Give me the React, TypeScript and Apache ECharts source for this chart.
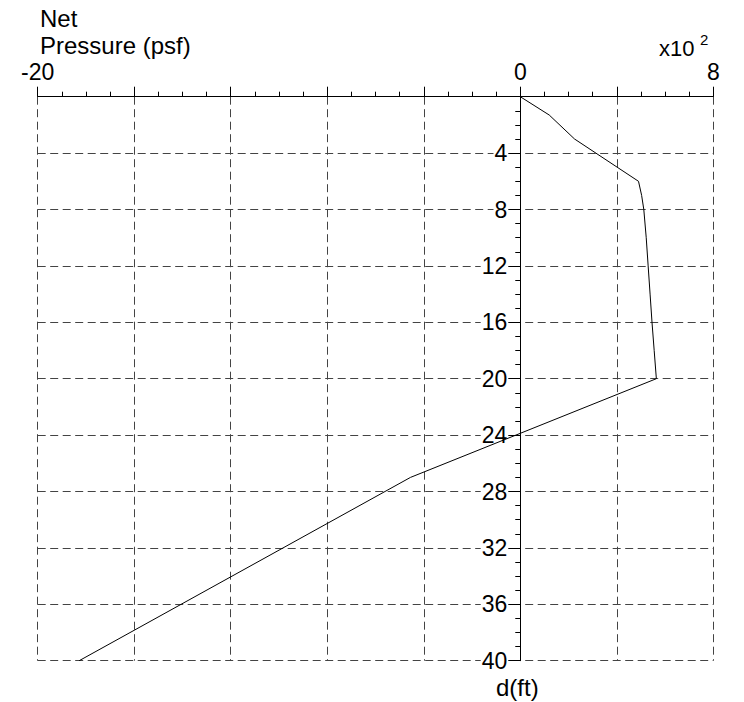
import React, { useEffect, useRef } from "react";
import * as echarts from "echarts";

// Net pressure profile (x10^2 psf) against depth d (ft)
const pressure = [0, 1.2, 2.25, 4.9, 5.03, 5.12, 5.22, 5.3, 5.38, 5.46, 5.55, 5.64, -4.55, -18.28];
const depth = [0, 1.3, 3, 6, 7, 8, 10, 12, 14, 16, 18, 20, 27, 40];

const xTickLabels = [-20, 0, 8];
const xRange = [-20, 8];
const depthRange = [0, 40];

const FONT = "'Liberation Sans', Arial, sans-serif";
const GRID_COLOR = "#444444";

const WIDTH = 744;
const HEIGHT = 702;
const GRID = { left: 37.7, right: 30.7, top: 96.7, bottom: 41.3 };

export default function App() {
  const ref = useRef<HTMLDivElement>(null);

  useEffect(() => {
    if (!ref.current) return;
    const chart = echarts.init(ref.current, undefined, { renderer: "svg" });
    const dashed = { color: GRID_COLOR, width: 1, type: [8, 4.5] as number[] };

    // the depth axis sits on the zero pressure line
    const plotWidth = WIDTH - GRID.left - GRID.right;
    const zeroOffset = -((0 - xRange[0]) / (xRange[1] - xRange[0])) * plotWidth;

    chart.setOption({
      animation: false,
      backgroundColor: "#ffffff",
      grid: { ...GRID, containLabel: false },
      xAxis: [
        {
          type: "value",
          position: "top",
          min: xRange[0],
          max: xRange[1],
          interval: 4,
          z: 3,
          axisLine: { show: true, onZero: false, lineStyle: { color: "#000", width: 1 } },
          axisTick: { show: true, length: 10, lineStyle: { color: "#000" } },
          minorTick: { show: true, splitNumber: 4, length: 5, lineStyle: { color: "#000" } },
          splitLine: { show: false },
          axisLabel: {
            show: true,
            margin: 13,
            fontFamily: FONT,
            fontSize: 23,
            color: "#000",
            formatter: (v: number) => (xTickLabels.includes(v) ? String(v) : ""),
          },
        },
        {
          type: "value",
          position: "top",
          min: xRange[0],
          max: xRange[1],
          interval: 4,
          z: 0,
          axisLine: { show: false },
          axisTick: { show: false },
          axisLabel: { show: false },
          splitLine: { show: true, lineStyle: dashed },
        },
      ],
      yAxis: [
        {
          type: "value",
          position: "left",
          offset: zeroOffset,
          inverse: true,
          min: depthRange[0],
          max: depthRange[1],
          interval: 4,
          z: 3,
          axisLine: { show: true, onZero: false, lineStyle: { color: "#000", width: 1 } },
          axisTick: { show: true, length: 13, lineStyle: { color: "#000" } },
          minorTick: { show: true, splitNumber: 4, length: 5, lineStyle: { color: "#000" } },
          splitLine: { show: false },
          axisLabel: {
            show: true,
            showMinLabel: false,
            margin: 12,
            fontFamily: FONT,
            fontSize: 23,
            color: "#000",
            backgroundColor: "#ffffff",
            padding: [0, 1],
            formatter: (v: number) => (v === 0 ? "" : String(v)),
          },
        },
        {
          type: "value",
          inverse: true,
          min: depthRange[0],
          max: depthRange[1],
          interval: 4,
          z: 0,
          axisLine: { show: false },
          axisTick: { show: false },
          axisLabel: { show: false },
          splitLine: { show: true, lineStyle: dashed },
        },
      ],
      series: [
        {
          type: "line",
          xAxisIndex: 0,
          yAxisIndex: 0,
          data: pressure.map((p, i) => [p, depth[i]]),
          symbol: "none",
          smooth: false,
          z: 4,
          lineStyle: { color: "#000", width: 1 },
        },
      ],
      graphic: [
        {
          type: "text",
          left: 40,
          top: 6,
          style: { text: "Net", font: `24px ${FONT}`, fill: "#000" },
        },
        {
          type: "text",
          left: 40,
          top: 33,
          style: { text: "Pressure (psf)", font: `24px ${FONT}`, fill: "#000" },
        },
        {
          type: "text",
          left: 659,
          top: 37,
          style: { text: "x10", font: `22px ${FONT}`, fill: "#000" },
        },
        {
          type: "text",
          left: 700,
          top: 32,
          style: { text: "2", font: `15px ${FONT}`, fill: "#000" },
        },
        {
          type: "text",
          left: 496,
          top: 675,
          style: { text: "d(ft)", font: `24px ${FONT}`, fill: "#000" },
        },
      ],
    });

    return () => chart.dispose();
  }, []);

  return (
    <div
      ref={ref}
      style={{ position: "fixed", left: 0, top: 0, width: WIDTH, height: HEIGHT, background: "#fff" }}
    />
  );
}
